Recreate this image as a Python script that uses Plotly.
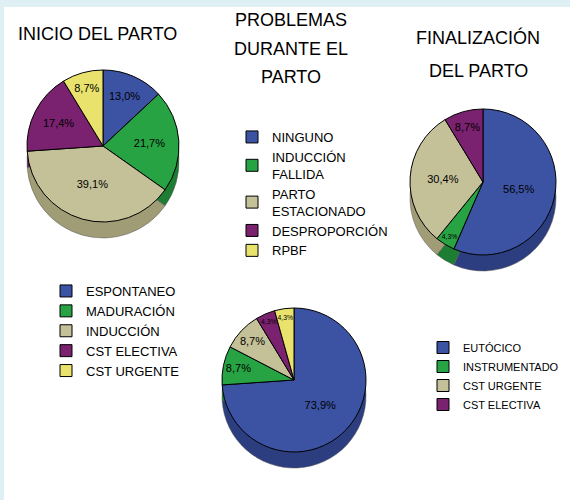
import plotly.graph_objects as go

# ---- data (counts, n = 23; shown as percentages) ----
inicio_labels = ["ESPONTANEO", "MADURACIÓN", "INDUCCIÓN", "CST ELECTIVA", "CST URGENTE"]
inicio_values = [3, 5, 9, 4, 2]          # 13,0% 21,7% 39,1% 17,4% 8,7%

problemas_labels = ["NINGUNO", "INDUCCIÓN<br>FALLIDA", "PARTO<br>ESTACIONADO", "DESPROPORCIÓN", "RPBF"]
problemas_values = [17, 2, 2, 1, 1]      # 73,9% 8,7% 8,7% 4,3% 4,3%

final_labels = ["EUTÓCICO", "INSTRUMENTADO", "CST URGENTE", "CST ELECTIVA"]
final_values = [13, 1, 7, 2]             # 56,5% 4,3% 30,4% 8,7%

# ---- styles ----
BLUE, GREEN, TAN, PURPLE, YELLOW = "#3c52a3", "#27a344", "#c4c098", "#7a216f", "#e9e36e"
DBLUE, DGREEN, DTAN, DPURPLE, DYELLOW = "#2c3e80", "#1c7d33", "#a09c76", "#5a1652", "#bdb74f"
inicio_colors = [BLUE, GREEN, TAN, PURPLE, YELLOW]
inicio_dark = [DBLUE, DGREEN, DTAN, DPURPLE, DYELLOW]
problemas_colors = [BLUE, GREEN, TAN, PURPLE, YELLOW]
problemas_dark = [DBLUE, DGREEN, DTAN, DPURPLE, DYELLOW]
final_colors = [BLUE, GREEN, TAN, PURPLE]
final_dark = [DBLUE, DGREEN, DTAN, DPURPLE]

W, H = 570, 500
FONT = "Liberation Sans Narrow, Arial Narrow, Liberation Sans, Arial, sans-serif"


def dom(cx, cy, r, dy=0):
    return dict(x=[(cx - r) / W, (cx + r) / W],
                y=[1 - (cy + dy + r) / H, 1 - (cy + dy - r) / H])


# labels of each pie made unique so that every legend lists all of its own entries
pies = [
    (inicio_labels, inicio_values, inicio_colors, inicio_dark, (103, 146, 76), "legend", ""),
    (problemas_labels, problemas_values, problemas_colors, problemas_dark, (294, 380, 72), "legend2", " "),
    (final_labels, final_values, final_colors, final_dark, (483, 182, 73), "legend3", "  "),
]

fig = go.Figure()
for labels, values, colors, dark, (cx, cy, r), leg, suffix in pies:
    labs = [l + suffix for l in labels]
    # depth (3D side) layer
    fig.add_trace(go.Pie(
        labels=labs, values=values, sort=False, direction="clockwise",
        domain=dom(cx, cy, r, 16), marker=dict(colors=dark, line=dict(color="#555555", width=0.5)),
        textinfo="none", hoverinfo="skip", showlegend=False, legend=leg,
    ))
    fig.add_trace(go.Pie(
        labels=labs, values=values, sort=False, direction="clockwise",
        domain=dom(cx, cy, r), marker=dict(colors=colors, line=dict(color="black", width=1)),
        texttemplate="%{percent:.1%}", textposition="inside", insidetextorientation="horizontal",
        insidetextfont=dict(color="black", size=11, family=FONT),
        legend=leg,
    ))

legend_common = dict(bgcolor="rgba(0,0,0,0)", xanchor="left", yanchor="top",
                     tracegroupgap=0, itemclick=False)

fig.update_layout(
    width=W, height=H, autosize=False,
    margin=dict(l=0, r=0, t=0, b=0, autoexpand=False),
    paper_bgcolor="white", plot_bgcolor="white",
    separators=",.",
    legend=dict(x=46 / W, y=1 - 276 / H, font=dict(family=FONT, size=13, color="black"), **legend_common),
    legend2=dict(x=232 / W, y=1 - 122 / H, font=dict(family=FONT, size=13, color="black"), **legend_common),
    legend3=dict(x=423 / W, y=1 - 333 / H, font=dict(family=FONT, size=11, color="black"), **legend_common),
    shapes=[
        dict(type="rect", xref="paper", yref="paper", x0=0, x1=4 / W, y0=0, y1=1,
             fillcolor="#dff0f4", line=dict(width=0), layer="below"),
        dict(type="rect", xref="paper", yref="paper", x0=0, x1=1, y0=1 - 7 / H, y1=1,
             fillcolor="#dff0f4", line=dict(width=0), layer="below"),
    ],
)

titles = [
    ("INICIO DEL PARTO", 97, 34),
    ("PROBLEMAS", 291, 20),
    ("DURANTE EL", 291, 49),
    ("PARTO", 291, 77),
    ("FINALIZACIÓN", 478, 38),
    ("DEL PARTO", 478, 71),
]
for txt, x, y in titles:
    fig.add_annotation(text=txt, x=x / W, y=1 - y / H, xref="paper", yref="paper",
                       xanchor="center", yanchor="middle", showarrow=False,
                       font=dict(family=FONT, size=18, color="black"))

fig.write_html("out.html",
               config={"displayModeBar": False},
               post_script="document.body.style.margin='0';document.body.style.overflow='hidden';")
